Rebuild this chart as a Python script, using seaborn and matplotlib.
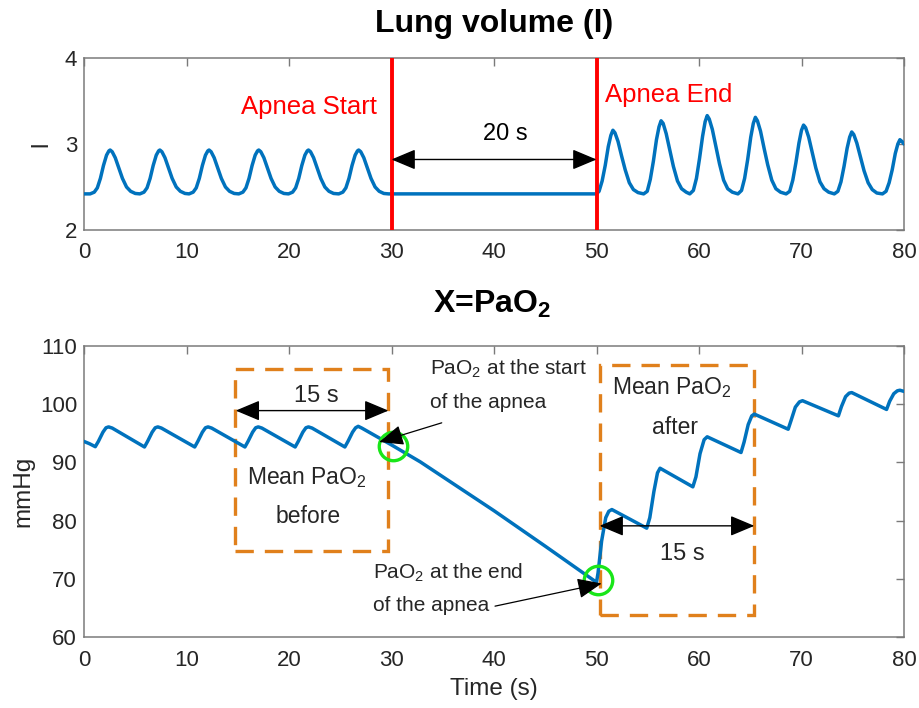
import matplotlib
matplotlib.use("Agg")
import matplotlib.pyplot as plt
from matplotlib.patches import Rectangle
import seaborn as sns
import pandas as pd

# ---------------- data ----------------
t_lung = [
    0.0,
    0.6, 1.0, 1.3, 1.6, 1.9, 2.2, 2.43, 2.55, 2.75, 3.05, 3.4, 3.75, 4.15, 4.55, 5.0,
    5.45, 5.85, 6.15, 6.45, 6.75, 7.05, 7.28, 7.4, 7.6, 7.9, 8.25, 8.6, 9.0, 9.4, 9.85,
    10.25, 10.65, 10.95, 11.25, 11.55, 11.85, 12.08, 12.2, 12.4, 12.7, 13.05, 13.4, 13.8, 14.2, 14.65,
    15.1, 15.5, 15.8, 16.1, 16.4, 16.7, 16.93, 17.05, 17.25, 17.55, 17.9, 18.25, 18.65, 19.05, 19.5,
    19.95, 20.35, 20.65, 20.95, 21.25, 21.55, 21.78, 21.9, 22.1, 22.4, 22.75, 23.1, 23.5, 23.9, 24.35,
    24.85, 25.25, 25.55, 25.85, 26.15, 26.45, 26.68, 26.8, 27.0, 27.3, 27.65, 28.0, 28.4, 28.8, 29.25,
    29.7, 40.0,
    50.0, 50.25, 50.55, 50.85, 51.15, 51.4, 51.6, 51.8, 52.1, 52.45, 52.8, 53.2, 53.6, 54.05,
    54.6, 54.95, 55.25, 55.55, 55.85, 56.1, 56.3, 56.5, 56.8, 57.15, 57.5, 57.9, 58.3, 58.75,
    59.1, 59.45, 59.75, 60.05, 60.35, 60.6, 60.8, 61.0, 61.3, 61.65, 62.0, 62.4, 62.8, 63.25,
    63.8, 64.15, 64.45, 64.75, 65.05, 65.3, 65.5, 65.7, 66.0, 66.35, 66.7, 67.1, 67.5, 67.95,
    68.5, 68.85, 69.15, 69.45, 69.75, 70.0, 70.2, 70.4, 70.7, 71.05, 71.4, 71.8, 72.2, 72.65,
    73.2, 73.55, 73.85, 74.15, 74.45, 74.7, 74.9, 75.1, 75.4, 75.75, 76.1, 76.5, 76.9, 77.35,
    77.9, 78.25, 78.55, 78.85, 79.15, 79.4, 79.6, 79.8, 80.0,
]
v_lung = [
    2.42,
    2.42, 2.44, 2.49, 2.60, 2.75, 2.87, 2.92, 2.93, 2.91, 2.84, 2.72, 2.60, 2.50, 2.45, 2.425,
    2.42, 2.44, 2.49, 2.60, 2.75, 2.87, 2.92, 2.93, 2.91, 2.84, 2.72, 2.60, 2.50, 2.45, 2.425,
    2.42, 2.44, 2.49, 2.60, 2.75, 2.87, 2.92, 2.93, 2.91, 2.84, 2.72, 2.60, 2.50, 2.45, 2.425,
    2.42, 2.44, 2.49, 2.60, 2.75, 2.87, 2.92, 2.93, 2.91, 2.84, 2.72, 2.60, 2.50, 2.45, 2.425,
    2.42, 2.44, 2.49, 2.60, 2.75, 2.87, 2.92, 2.93, 2.91, 2.84, 2.72, 2.60, 2.50, 2.45, 2.425,
    2.42, 2.44, 2.49, 2.60, 2.75, 2.87, 2.92, 2.93, 2.91, 2.84, 2.72, 2.60, 2.50, 2.45, 2.425,
    2.42, 2.42,
    2.42, 2.45, 2.57, 2.75, 2.97, 3.10, 3.16, 3.13, 3.03, 2.86, 2.70, 2.55, 2.47, 2.435,
    2.42, 2.45, 2.59, 2.80, 3.05, 3.20, 3.27, 3.24, 3.12, 2.93, 2.74, 2.57, 2.48, 2.44,
    2.42, 2.46, 2.60, 2.83, 3.09, 3.26, 3.33, 3.29, 3.17, 2.97, 2.77, 2.58, 2.48, 2.44,
    2.42, 2.46, 2.60, 2.82, 3.08, 3.24, 3.31, 3.27, 3.15, 2.95, 2.76, 2.58, 2.48, 2.44,
    2.42, 2.45, 2.58, 2.78, 3.01, 3.16, 3.22, 3.19, 3.08, 2.90, 2.72, 2.56, 2.48, 2.44,
    2.42, 2.45, 2.56, 2.74, 2.95, 3.08, 3.14, 3.11, 3.01, 2.85, 2.69, 2.55, 2.47, 2.43,
    2.42, 2.45, 2.55, 2.70, 2.89, 3.00, 3.05, 3.03, 3.00,
]

t_pao2 = [
    0.0, 0.55, 1.1, 1.4, 1.85, 2.15, 2.4, 2.75,
    5.9, 6.2, 6.65, 6.95, 7.2, 7.55,
    10.8, 11.1, 11.55, 11.85, 12.1, 12.45,
    15.7, 16.0, 16.45, 16.75, 17.0, 17.35,
    20.6, 20.9, 21.35, 21.65, 21.9, 22.25,
    25.45, 25.75, 26.2, 26.5, 26.75, 27.1,
    30.0, 32.8, 40.0, 45.0, 50.0,
    50.15, 50.5, 50.9, 51.2, 51.5,
    54.9, 55.2, 55.6, 55.95, 56.2,
    59.4, 59.7, 60.1, 60.5, 60.8,
    64.1, 64.4, 64.8, 65.15, 65.4,
    68.7, 69.0, 69.4, 69.8, 70.1,
    73.6, 73.9, 74.3, 74.65, 74.9,
    78.3, 78.6, 79.0, 79.35, 79.6, 80.0,
]
v_pao2 = [
    93.6, 93.2, 92.7, 93.6, 95.2, 95.95, 96.1, 95.9,
    92.65, 93.6, 95.2, 95.95, 96.1, 95.9,
    92.65, 93.6, 95.2, 95.95, 96.1, 95.9,
    92.65, 93.6, 95.2, 95.95, 96.1, 95.9,
    92.65, 93.6, 95.2, 95.95, 96.1, 95.9,
    92.65, 93.6, 95.2, 95.95, 96.2, 95.9,
    93.0, 90.1, 81.7, 75.6, 69.4,
    71.0, 76.5, 80.5, 81.6, 81.9,
    78.7, 80.5, 85.0, 88.2, 89.0,
    85.8, 87.5, 91.5, 93.9, 94.4,
    91.7, 93.5, 96.5, 98.0, 98.3,
    95.7, 97.3, 99.5, 100.4, 100.6,
    98.0, 99.6, 101.3, 101.9, 102.0,
    99.1, 100.5, 101.8, 102.3, 102.4, 102.2,
]

apnea_times = [30, 50]
marked_t = [30.1, 50.1]
marked_v = [92.9, 69.8]
x_ticks = [0, 10, 20, 30, 40, 50, 60, 70, 80]
lung_ticks = [2, 3, 4]
pao2_ticks = [60, 70, 80, 90, 100, 110]

# ---------------- style ----------------
sns.set_style("white")
plt.rcParams["font.family"] = ["Liberation Sans", "DejaVu Sans"]
plt.rcParams["mathtext.fontset"] = "custom"
plt.rcParams["mathtext.rm"] = "Liberation Sans"
plt.rcParams["mathtext.it"] = "Liberation Sans:italic"
plt.rcParams["mathtext.bf"] = "Liberation Sans:bold"

BLUE = "#0072BD"
ORANGE = "#E0801C"
GREEN = "#19E619"
SPINE = "#7a7a7a"
TXT = "#262626"

fig = plt.figure(figsize=(9.19, 7.08), dpi=100)
ax1 = fig.add_axes([84 / 919, 1 - 230 / 708, 820 / 919, 172 / 708])
ax2 = fig.add_axes([84 / 919, 1 - 637 / 708, 820 / 919, 291 / 708])

df_l = pd.DataFrame({"t": t_lung, "v": v_lung})
df_p = pd.DataFrame({"t": t_pao2, "v": v_pao2})

sns.lineplot(data=df_l, x="t", y="v", ax=ax1, color=BLUE, linewidth=2.5, zorder=3)
sns.lineplot(data=df_p, x="t", y="v", ax=ax2, color=BLUE, linewidth=2.5, zorder=3)

for ax, yt in ((ax1, lung_ticks), (ax2, pao2_ticks)):
    ax.set_xlim(0, 80)
    ax.set_xticks(x_ticks)
    ax.set_yticks(yt)
    ax.set_ylim(yt[0], yt[-1])
    ax.tick_params(direction="in", top=True, right=True, length=6, width=1,
                   color=SPINE, labelsize=16, labelcolor=TXT)
    ax.tick_params(axis="x", pad=9)
    ax.tick_params(axis="y", pad=5)
    for s in ax.spines.values():
        s.set_color(SPINE)
        s.set_linewidth(1.1)
    ax.set_xlabel("")
    ax.set_ylabel("")

# labels
ax1.set_ylabel("l", fontsize=17, color=TXT)
ax1.yaxis.set_label_coords(-0.039, 0.5)
ax2.set_ylabel("mmHg", fontsize=17.5, color=TXT)
ax2.yaxis.set_label_coords(-0.060, 0.5)
ax2.set_xlabel("Time (s)", fontsize=17.5, color=TXT)
ax2.xaxis.set_label_coords(0.5, -0.142)

# titles
fig.text(0.5375, 1 - 32 / 708, "Lung volume (l)", ha="center", va="baseline",
         fontsize=23, fontweight="bold", color="black")
fig.text(0.535, 1 - 313 / 708, r"X=PaO$_\mathbf{2}$", ha="center", va="baseline",
         fontsize=23, fontweight="bold", color="black")

# ---------------- top panel annotations ----------------
for xa in apnea_times:
    ax1.axvline(xa, color="#FF0000", linewidth=2.8, zorder=4)
ax1.text(28.6, 3.35, "Apnea Start", color="#FF0000", fontsize=18.5, ha="right", va="baseline")
ax1.text(50.8, 3.49, "Apnea End", color="#FF0000", fontsize=18.5, ha="left", va="baseline")
arrow2 = dict(arrowstyle="<|-|>,head_length=1.0,head_width=0.42", mutation_scale=15,
              color="black", lw=1, shrinkA=0, shrinkB=0)
ax1.annotate("", xy=(30, 2.82), xytext=(50, 2.82), arrowprops=arrow2, zorder=5)
ax1.text(41.1, 3.05, "20 s", fontsize=17, ha="center", va="baseline", color="black")

# ---------------- bottom panel annotations ----------------
dash = (0, (5.5, 3.3))
ax2.add_patch(Rectangle((14.7, 74.8), 15.0, 31.2, fill=False, edgecolor=ORANGE,
                        linewidth=2.4, linestyle=dash, zorder=2))
ax2.add_patch(Rectangle((50.3, 63.8), 15.1, 42.9, fill=False, edgecolor=ORANGE,
                        linewidth=2.4, linestyle=dash, zorder=2))

ax2.annotate("", xy=(14.8, 98.9), xytext=(29.7, 98.9), arrowprops=arrow2, zorder=5)
ax2.annotate("", xy=(50.3, 79.1), xytext=(65.4, 79.1), arrowprops=arrow2, zorder=5)
ax2.text(22.7, 100.4, "15 s", fontsize=17, ha="center", va="baseline")
ax2.text(58.4, 73.3, "15 s", fontsize=17, ha="center", va="baseline")

ax2.text(21.7, 86.3, r"Mean PaO$_2$", fontsize=16.5, ha="center", va="baseline")
ax2.text(21.9, 79.6, "before", fontsize=16.5, ha="center", va="baseline")
ax2.text(57.3, 101.7, r"Mean PaO$_2$", fontsize=16.5, ha="center", va="baseline")
ax2.text(57.7, 94.9, "after", fontsize=16.5, ha="center", va="baseline")

ax2.text(33.75, 105.1, r"PaO$_2$ at the start", fontsize=15, ha="left", va="baseline")
ax2.text(33.75, 99.4, "of the apnea", fontsize=15, ha="left", va="baseline")
ax2.text(28.2, 70.1, r"PaO$_2$ at the end", fontsize=15, ha="left", va="baseline")
ax2.text(28.2, 64.4, "of the apnea", fontsize=15, ha="left", va="baseline")

arrow1 = dict(arrowstyle="-|>,head_length=1.0,head_width=0.42", mutation_scale=15,
              color="black", lw=0.9, shrinkA=0, shrinkB=0)
ax2.annotate("", xy=(28.8, 93.5), xytext=(34.9, 96.8), arrowprops=arrow1, zorder=6)
ax2.annotate("", xy=(50.5, 69.2), xytext=(40.1, 65.3), arrowprops=arrow1, zorder=6)

ax2.plot(marked_t, marked_v, linestyle="none", marker="o", markersize=20.5,
         markerfacecolor="none", markeredgecolor=GREEN, markeredgewidth=2.4, zorder=5)

fig.savefig("out.png", dpi=100, facecolor="white")
